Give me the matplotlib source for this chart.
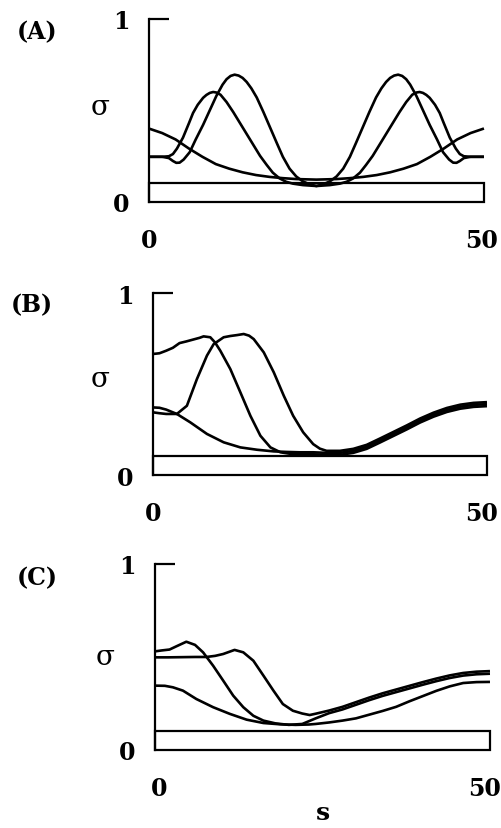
import matplotlib
matplotlib.use("Agg")
import matplotlib.pyplot as plt
from matplotlib.patches import Rectangle

# ---- data: sigma along s, three runs per panel ----
# panel (A)
sA_bowl = [0, 2, 4, 6, 8, 10, 12, 14, 16, 18, 20, 22, 25, 28, 30, 32, 34, 36, 38, 40, 42, 44, 46, 48, 50]
vA_bowl = [0.40, 0.375, 0.34, 0.29, 0.245, 0.205, 0.18, 0.16, 0.145, 0.135, 0.128, 0.123, 0.12,
           0.123, 0.128, 0.135, 0.145, 0.16, 0.18, 0.205, 0.245, 0.29, 0.34, 0.375, 0.40]

sA_low = [0, 2, 3.0, 3.6, 4.2, 5.1, 6.0, 6.6, 7.3, 8.1, 8.6, 9.1, 9.6, 10.1, 10.7, 11.6, 12.6, 13.6,
          14.6, 15.6, 16.6, 17.6, 18.5, 19.5, 20.5, 21.5, 23, 25,
          27, 28.5, 29.5, 30.5, 31.5, 32.4, 33.4, 34.4, 35.4, 36.4, 37.4, 38.4, 39.3, 39.9, 40.4,
          40.9, 41.4, 41.9, 42.7, 43.4, 44.0, 44.9, 45.8, 46.4, 47.0, 48, 50]
vA_low = [0.245, 0.245, 0.248, 0.26, 0.29, 0.35, 0.43, 0.485, 0.53, 0.568, 0.584, 0.595, 0.60, 0.597,
          0.585, 0.545, 0.49, 0.43, 0.37, 0.31, 0.25, 0.20, 0.158, 0.127, 0.108, 0.098, 0.09, 0.085,
          0.09, 0.098, 0.108, 0.127, 0.158, 0.20, 0.25, 0.31, 0.37, 0.43, 0.49, 0.545, 0.585, 0.597,
          0.60, 0.595, 0.584, 0.568, 0.53, 0.485, 0.43, 0.35, 0.29, 0.26, 0.248, 0.245, 0.245]

sA_high = [0, 2, 3, 3.6, 4.1, 4.6, 5.2, 6.1, 7, 8.1, 9.1, 10.1, 11, 11.6, 12.2, 12.8, 13.4, 14.0, 14.6,
           15.3, 16.1, 17.1, 18.1, 19.1, 20, 21, 22, 23, 24, 25,
           26, 27, 28, 29, 30, 30.9, 31.9, 32.9, 33.9, 34.7, 35.4, 36.0, 36.6, 37.2, 37.8, 38.4, 39,
           39.9, 40.9, 41.9, 43, 43.9, 44.8, 45.4, 45.9, 46.4, 47, 48, 50]
vA_high = [0.245, 0.245, 0.238, 0.222, 0.212, 0.213, 0.23, 0.27, 0.34, 0.42, 0.50, 0.58, 0.64, 0.67,
           0.688, 0.695, 0.69, 0.677, 0.655, 0.62, 0.57, 0.49, 0.405, 0.32, 0.245, 0.18, 0.137, 0.11,
           0.094, 0.085,
           0.094, 0.11, 0.137, 0.18, 0.245, 0.32, 0.405, 0.49, 0.57, 0.62, 0.655, 0.677, 0.69, 0.695,
           0.688, 0.67, 0.64, 0.58, 0.50, 0.42, 0.34, 0.27, 0.23, 0.213, 0.212, 0.222, 0.238, 0.245,
           0.245]

# panel (B)
sB_1 = [0, 1, 2, 3, 4, 5, 6, 7, 7.6, 8.6, 9.3, 10.1, 11.6, 13.1, 14.6, 16.1, 17.6, 19.1, 20.5, 22,
        24, 26, 28, 30, 32, 34, 36, 38, 40, 42, 44, 46, 48, 50]
vB_1 = [0.666, 0.67, 0.684, 0.70, 0.726, 0.735, 0.745, 0.755, 0.763, 0.758, 0.73, 0.684, 0.583, 0.455,
        0.326, 0.216, 0.152, 0.125, 0.117, 0.115, 0.114, 0.111, 0.111, 0.122, 0.144, 0.179, 0.215,
        0.251, 0.289, 0.321, 0.347, 0.365, 0.375, 0.379]

sB_2 = [0, 1, 2, 3.6, 5.1, 6.6, 8.1, 9.1, 10.6, 11.6, 12.6, 13.6, 14.4, 15.1, 16.6, 18.1, 19.6, 21.0,
        22.5, 24.0, 25, 26, 28, 30, 32, 34, 36, 38, 40, 42, 44, 46, 48, 50]
vB_2 = [0.345, 0.34, 0.336, 0.336, 0.381, 0.528, 0.657, 0.72, 0.758, 0.765, 0.77, 0.776, 0.767, 0.748,
        0.675, 0.565, 0.436, 0.326, 0.235, 0.17, 0.145, 0.133, 0.133, 0.144, 0.166, 0.201, 0.237,
        0.273, 0.311, 0.343, 0.369, 0.387, 0.397, 0.401]

sB_3 = [0, 1, 2, 3.6, 5.6, 8.1, 10.6, 13.1, 15.6, 18.1, 20, 22, 24, 26, 28, 30, 32, 34, 36, 38, 40,
        42, 44, 46, 48, 50]
vB_3 = [0.372, 0.37, 0.36, 0.336, 0.29, 0.226, 0.18, 0.152, 0.139, 0.13, 0.127, 0.125, 0.125, 0.122,
        0.122, 0.133, 0.155, 0.19, 0.226, 0.262, 0.30, 0.332, 0.358, 0.376, 0.386, 0.39]

# panel (C)
sC_1 = [0, 1, 2.2, 3.2, 4.7, 6.0, 7.2, 8.7, 10.2, 11.7, 13.2, 14.7, 16.2, 18, 20, 22, 24,
        26, 28, 30, 32, 34, 36, 38, 40, 42, 44, 46, 48, 50]
vC_1 = [0.53, 0.535, 0.54, 0.557, 0.582, 0.565, 0.525, 0.453, 0.373, 0.292, 0.23, 0.184, 0.158, 0.143,
        0.135, 0.14, 0.17, 0.198, 0.218, 0.243, 0.268, 0.291, 0.311, 0.331, 0.351, 0.37, 0.387, 0.4,
        0.407, 0.41]

sC_2 = [0, 2, 4, 6, 7.7, 9, 10.2, 11.9, 13.2, 14.7, 16.2, 17.7, 19.1, 20.6, 22, 23.1, 24,
        26, 28, 30, 32, 34, 36, 38, 40, 42, 44, 46, 48, 50]
vC_2 = [0.498, 0.498, 0.499, 0.50, 0.50, 0.506, 0.516, 0.538, 0.525, 0.48, 0.40, 0.319, 0.247, 0.211,
        0.196, 0.188, 0.195, 0.212, 0.232, 0.257, 0.282, 0.305, 0.325, 0.345, 0.365, 0.384, 0.401,
        0.414, 0.421, 0.424]

sC_3 = [0, 1.5, 2.7, 4.2, 6.2, 8.7, 11.2, 13.7, 16.2, 18.7, 21, 23, 24,
        26, 28, 30, 32, 34, 36, 38, 40, 42, 44, 46, 48, 50]
vC_3 = [0.346, 0.345, 0.337, 0.319, 0.274, 0.23, 0.194, 0.163, 0.145, 0.138, 0.135, 0.137, 0.14,
        0.148, 0.158, 0.17, 0.19, 0.21, 0.232, 0.262, 0.29, 0.318, 0.342, 0.36, 0.365, 0.366]

panel_names = ["(A)", "(B)", "(C)"]
thresholds = [0.10, 0.103, 0.104]   # height of the open box along the bottom
s_max = 50

curves = [
    [(sA_bowl, vA_bowl), (sA_low, vA_low), (sA_high, vA_high)],
    [(sB_1, vB_1), (sB_2, vB_2), (sB_3, vB_3)],
    [(sC_1, vC_1), (sC_2, vC_2), (sC_3, vC_3)],
]

# axes placement in figure fractions (left, bottom, width, height)
boxes = [
    [0.297, 0.7557, 0.669, 0.2202],
    [0.305, 0.4258, 0.667, 0.2192],
    [0.309, 0.0941, 0.669, 0.2244],
]
label_pos = [(37, 32), (32, 305), (37, 578)]   # pixel positions of (A),(B),(C)
sigma_pos = [(-0.146, 0.52), (-0.158, 0.53), (-0.149, 0.50)]
xlab_shift = [(0, -2), (0, -4), (3, -4)]        # nudge of the "0" / "50" labels, points

W, H = 501, 829
fig = plt.figure(figsize=(W / 100, H / 100), dpi=100)
serif = "DejaVu Serif"
lw_curve = 1.9
lw_box = 1.6
fs = 17

for i in range(3):
    ax = fig.add_axes(boxes[i])
    for s, v in curves[i]:
        ax.plot(s, v, color="black", lw=lw_curve, clip_on=False, solid_capstyle="butt")

    ax.add_patch(Rectangle((0, 0), s_max, thresholds[i], fill=False, ec="black",
                           lw=lw_box, clip_on=False))
    # short stub at the top of the sigma axis
    ax.plot([0, 3], [1, 1], color="black", lw=lw_box, clip_on=False, solid_capstyle="butt")

    ax.set_xlim(0, s_max)
    ax.set_ylim(0, 1)
    for side in ["top", "right", "bottom"]:
        ax.spines[side].set_visible(False)
    ax.spines["left"].set_linewidth(lw_box)

    ax.set_xticks([])
    for xv, txt, dx in zip([0, s_max], ["0", "50"], xlab_shift[i]):
        ax.annotate(txt, xy=(xv, 0), xycoords=("data", "axes fraction"),
                    xytext=(dx, -19), textcoords="offset points", ha="center", va="top",
                    fontfamily=serif, fontweight="bold", fontsize=fs)
    ax.set_yticks([0, 1])
    ax.set_yticklabels(["0", "1"], fontfamily=serif, fontweight="bold", fontsize=fs)
    ax.tick_params(axis="y", length=0, pad=14)

    ax.text(sigma_pos[i][0], sigma_pos[i][1], "σ", transform=ax.transAxes,
            ha="center", va="center", fontfamily=serif, fontsize=20)

    lx, ly = label_pos[i]
    fig.text(lx / W, 1 - ly / H, panel_names[i], ha="center", va="center",
             fontfamily=serif, fontweight="bold", fontsize=fs)

fig.text(323 / W, 1 - 813 / H, "s", ha="center", va="center",
         fontfamily=serif, fontweight="bold", fontsize=18)

fig.savefig("out.png", dpi=100, facecolor="white")
